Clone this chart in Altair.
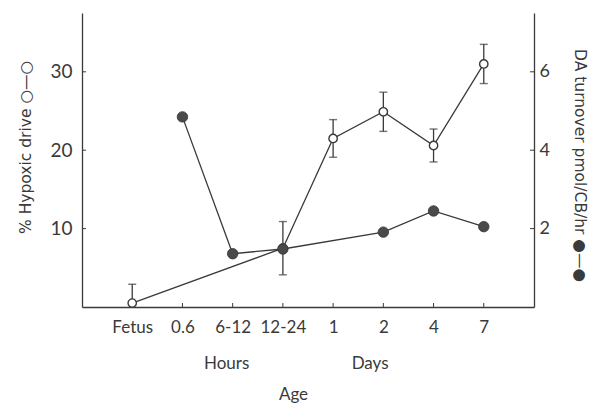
import altair as alt
import pandas as pd

# Age groups along the x axis
ages = ["Fetus", "0.6", "6-12", "12-24", "1", "2", "4", "7"]

# % hypoxic drive (open circles) with error half-widths
hyp_age = ["Fetus", "12-24", "1", "2", "4", "7"]
hyp_val = [0.5, 7.5, 21.5, 24.9, 20.6, 31.0]
hyp_err = [2.4, 3.4, 2.4, 2.5, 2.1, 2.5]

# DA turnover, pmol/CB/hr (filled circles)
da_age = ["0.6", "6-12", "12-24", "2", "4", "7"]
da_val = [4.85, 1.36, 1.48, 1.91, 2.45, 2.05]

left_ticks = [10, 20, 30]
right_ticks = [2, 4, 6]

W, H = 452, 294
FONT = "Lato"
TITLE_FONT = "DejaVu Sans"
INK = "#3a3a3a"

hyp = pd.DataFrame({
    "age": hyp_age,
    "val": hyp_val,
    "lo": [v - e for v, e in zip(hyp_val, hyp_err)],
    "hi": [v + e for v, e in zip(hyp_val, hyp_err)],
    "idx": [ages.index(a) for a in hyp_age],
})
da = pd.DataFrame({
    "age": da_age,
    "val": da_val,
    "idx": [ages.index(a) for a in da_age],
})

x_axis = alt.Axis(
    title="Age", labelAngle=0, ticks=False, labelPadding=12,
    labelFont=FONT, labelFontSize=17, labelColor=INK,
    titleFont=FONT, titleFontSize=17, titleFontWeight="normal", titleColor=INK,
    titleX=211, titleY=87, titleBaseline="middle",
    domainColor=INK, domainWidth=1.3,
)
x_scale = alt.Scale(type="point", domain=ages, padding=1)


def xenc():
    return alt.X("age:N", scale=x_scale, axis=x_axis)


left_axis = alt.Axis(
    values=left_ticks, title="% Hypoxic drive ○—○", ticks=False, labelPadding=10,
    labelFont=FONT, labelFontSize=19, labelColor=INK,
    titleFont=TITLE_FONT, titleFontSize=15.5, titleFontWeight="normal", titleColor=INK,
    titleAngle=270, titleX=-57, titleY=134, titleBaseline="middle", titleAlign="center",
    domainColor=INK, domainWidth=1.3, grid=False,
)
left_scale = alt.Scale(domain=[0, 37.5], nice=False)

right_axis = alt.Axis(
    orient="right", values=right_ticks, title="DA turnover pmol/CB/hr ●—●",
    ticks=False, labelPadding=5,
    labelFont=FONT, labelFontSize=18, labelColor=INK,
    titleFont=TITLE_FONT, titleFontSize=15.5, titleFontWeight="normal", titleColor=INK,
    titleAngle=90, titleX=45, titleY=152, titleBaseline="middle", titleAlign="center",
    domainColor=INK, domainWidth=1.3, grid=False,
)
right_scale = alt.Scale(domain=[0, 7.5], nice=False)

base_h = alt.Chart(hyp)

hyp_line = base_h.mark_line(color=INK, strokeWidth=1.3).encode(
    x=xenc(), y=alt.Y("val:Q", scale=left_scale, axis=left_axis), order="idx:Q"
)
hyp_bar = base_h.mark_rule(color=INK, strokeWidth=1.3, clip=True).encode(
    x=xenc(), y=alt.Y("lo:Q", scale=left_scale, axis=left_axis), y2="hi:Q"
)
hyp_cap_hi = base_h.mark_tick(color=INK, size=8, thickness=1.4, clip=True).encode(
    x=xenc(), y=alt.Y("hi:Q", scale=left_scale, axis=left_axis)
)
hyp_cap_lo = base_h.mark_tick(color=INK, size=8, thickness=1.4, clip=True).encode(
    x=xenc(), y=alt.Y("lo:Q", scale=left_scale, axis=left_axis)
)
hyp_pts = base_h.mark_point(
    shape="circle", filled=True, fill="white", stroke=INK, strokeWidth=1.4,
    size=70, opacity=1,
).encode(x=xenc(), y=alt.Y("val:Q", scale=left_scale, axis=left_axis))

# short inward ticks on the left and bottom axes
left_tick_marks = alt.Chart(pd.DataFrame({"t": left_ticks})).mark_rule(
    color=INK, strokeWidth=1
).encode(
    y=alt.Y("t:Q", scale=left_scale, axis=left_axis),
    x=alt.value(0), x2=alt.value(4),
)
x_tick_marks = alt.Chart(pd.DataFrame({"age": ages})).mark_rule(
    color=INK, strokeWidth=1
).encode(x=xenc(), y=alt.value(H), y2=alt.value(H - 4))

# "Hours" / "Days" group labels under the tick labels
hours = alt.Chart(pd.DataFrame({"g": ["Hours"]})).mark_text(
    font=FONT, fontSize=17, color=INK, baseline="middle", dx=-6
).encode(x=alt.datum("6-12", scale=x_scale), y=alt.value(351), text="g:N")
days = alt.Chart(pd.DataFrame({"g": ["Days"]})).mark_text(
    font=FONT, fontSize=17, color=INK, baseline="middle", dx=37
).encode(x=alt.datum("1", scale=x_scale), y=alt.value(351), text="g:N")

left_layer = alt.layer(
    left_tick_marks, x_tick_marks, hyp_line, hyp_bar, hyp_cap_hi, hyp_cap_lo, hyp_pts, hours, days
)

base_d = alt.Chart(da)
da_line = base_d.mark_line(color=INK, strokeWidth=1.3).encode(
    x=xenc(), y=alt.Y("val:Q", scale=right_scale, axis=right_axis), order="idx:Q"
)
da_pts = base_d.mark_point(
    shape="circle", filled=True, fill="#4a4a4a", stroke="#333333", strokeWidth=0.8,
    size=110, opacity=1,
).encode(x=xenc(), y=alt.Y("val:Q", scale=right_scale, axis=right_axis))
right_tick_marks = alt.Chart(pd.DataFrame({"t": right_ticks})).mark_rule(
    color=INK, strokeWidth=1
).encode(
    y=alt.Y("t:Q", scale=right_scale, axis=right_axis),
    x=alt.value(W), x2=alt.value(W - 4),
)
right_layer = alt.layer(right_tick_marks, da_line, da_pts)

chart = (
    alt.layer(left_layer, right_layer)
    .resolve_scale(y="independent")
    .properties(
        width=W, height=H, autosize="none",
        padding={"left": 82, "top": 13, "right": 55, "bottom": 97},
        background="white",
    )
    .configure_view(stroke=None)
)

chart.save("out.html", embed_options={"renderer": "svg", "actions": False})
